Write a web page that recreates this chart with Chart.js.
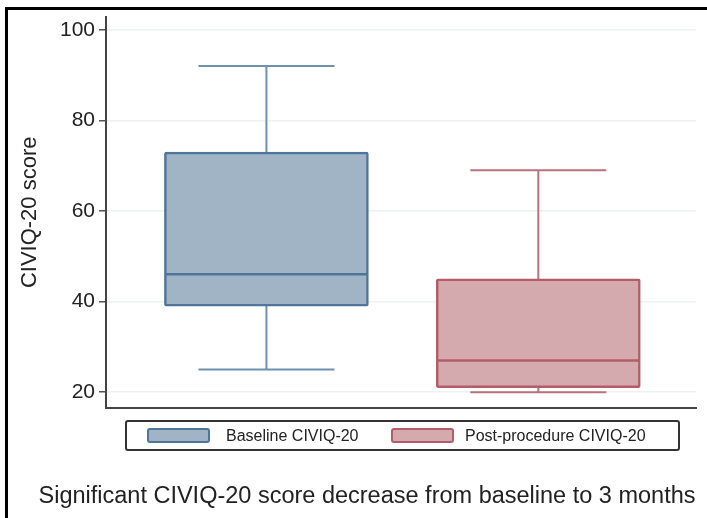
<!DOCTYPE html>
<html>
<head>
<meta charset="utf-8">
<script src="https://cdn.jsdelivr.net/npm/chart.js@4.4.1/dist/chart.umd.min.js"></script>
<style>
  body { margin: 0; background: #fff; font-family: 'Liberation Sans', Arial, sans-serif; }
  #wrap { position: relative; width: 707px; height: 518px; overflow: hidden; }
  #frame { position: absolute; left: 5px; top: 7px; right: -10px; bottom: -10px; border-top: 3px solid #000; border-left: 3px solid #000; }
  canvas { position: absolute; left: 0; top: 0; }
  #legend { position: absolute; left: 125px; top: 420px; width: 555px; height: 31px; box-sizing: border-box; border: 2px solid #333; border-radius: 3px; }
  .sw { position: absolute; top: 6px; width: 63px; height: 15px; box-sizing: border-box; border: 2px solid; border-radius: 3px; }
  .lb { position: absolute; top: 0; line-height: 27px; font-size: 16px; color: #222; white-space: nowrap; }
  #xtitle { position: absolute; left: 0; width: 734px; top: 483px; text-align: center; font-size: 23.5px; line-height: 24px; color: #222; white-space: nowrap; }
</style>
</head>
<body>
<div id="wrap">
  <div id="frame"></div>
  <canvas id="chart" width="707" height="518"></canvas>
  <div id="legend"></div>
  <div id="xtitle">Significant CIVIQ-20 score decrease from baseline to 3 months</div>
</div>
<script>
// box plot values
const categories = ['Baseline CIVIQ-20', 'Post-procedure CIVIQ-20'];
const whiskerLow = [25, 20];
const q1 = [39, 21];
const median = [46, 27];
const q3 = [73, 45];
const whiskerHigh = [92, 69];
const yTicks = [20, 40, 60, 80, 100];

const fills = ['#a1b4c5', '#d5aaae'];
const borders = ['#4f7698', '#b25d69'];
const whiskerColors = ['#6e92ae', '#ba727c'];

const BOX_W = 204;
const CAP_W = 136;

// legend (html)
const legend = document.getElementById('legend');
const swatchX = [20, 264];
const labelX = [99, 338];
categories.forEach((name, i) => {
    const sw = document.createElement('div');
    sw.className = 'sw';
    sw.style.left = swatchX[i] + 'px';
    sw.style.background = fills[i];
    sw.style.borderColor = borders[i];
    legend.appendChild(sw);
    const lb = document.createElement('div');
    lb.className = 'lb';
    lb.style.left = labelX[i] + 'px';
    lb.textContent = name;
    legend.appendChild(lb);
});

// whiskers, caps and medians drawn through the scales
const boxPlugin = {
    id: 'boxParts',
    beforeDatasetsDraw(chart) {
        const ctx = chart.ctx;
        const xs = chart.scales.x, ys = chart.scales.y;
        ctx.save();
        categories.forEach((c, i) => {
            const x = xs.getPixelForValue(i + 1);
            ctx.strokeStyle = whiskerColors[i];
            ctx.lineWidth = 2;
            ctx.beginPath();
            ctx.moveTo(x, ys.getPixelForValue(whiskerHigh[i]));
            ctx.lineTo(x, ys.getPixelForValue(q3[i]));
            ctx.moveTo(x, ys.getPixelForValue(q1[i]));
            ctx.lineTo(x, ys.getPixelForValue(whiskerLow[i]));
            ctx.moveTo(x - CAP_W / 2, ys.getPixelForValue(whiskerHigh[i]));
            ctx.lineTo(x + CAP_W / 2, ys.getPixelForValue(whiskerHigh[i]));
            ctx.moveTo(x - CAP_W / 2, ys.getPixelForValue(whiskerLow[i]));
            ctx.lineTo(x + CAP_W / 2, ys.getPixelForValue(whiskerLow[i]));
            ctx.stroke();
        });
        ctx.restore();
    },
    afterDatasetsDraw(chart) {
        const ctx = chart.ctx;
        const xs = chart.scales.x, ys = chart.scales.y;
        ctx.save();
        categories.forEach((c, i) => {
            const x = xs.getPixelForValue(i + 1);
            const y = ys.getPixelForValue(median[i]);
            ctx.strokeStyle = borders[i];
            ctx.lineWidth = 2.5;
            ctx.beginPath();
            ctx.moveTo(x - BOX_W / 2 + 1, y);
            ctx.lineTo(x + BOX_W / 2 - 1, y);
            ctx.stroke();
        });
        ctx.restore();
    }
};

const datasets = categories.map((name, i) => ({
    label: name,
    data: [{ x: i + 1, y: [q1[i], q3[i]] }],
    backgroundColor: fills[i],
    borderColor: borders[i],
    borderWidth: 2.5,
    borderSkipped: false,
    borderRadius: 2,
    barThickness: BOX_W,
    grouped: false
}));

new Chart(document.getElementById('chart'), {
    type: 'bar',
    data: { datasets: datasets },
    plugins: [boxPlugin],
    options: {
        responsive: false,
        devicePixelRatio: 1,
        animation: false,
        layout: { padding: { left: 0, top: 15, right: 11, bottom: 110 } },
        plugins: { legend: { display: false }, tooltip: { enabled: false } },
        scales: {
            x: {
                type: 'linear',
                offset: false,
                min: 0.41,
                max: 2.58,
                ticks: { display: false },
                grid: { display: false, offset: false },
                border: { display: true, color: '#444', width: 2 },
                afterFit: (scale) => { scale.height = 0; }
            },
            y: {
                min: 16.5,
                max: 102.9,
                afterBuildTicks: (scale) => { scale.ticks = yTicks.map(v => ({ value: v })); },
                afterFit: (scale) => { scale.width = 106; },
                ticks: {
                    color: '#222',
                    padding: 4,
                    font: { family: "'Liberation Sans', Arial, sans-serif", size: 21 }
                },
                grid: { color: '#eef1f1', lineWidth: 1.5, tickColor: '#555', tickLength: 7 },
                border: { color: '#444', width: 2 },
                title: {
                    display: true,
                    text: 'CIVIQ-20 score',
                    color: '#222',
                    padding: { top: 17, bottom: 0 },
                    font: { family: "'Liberation Sans', Arial, sans-serif", size: 22 }
                }
            }
        }
    }
});
</script>
</body>
</html>
